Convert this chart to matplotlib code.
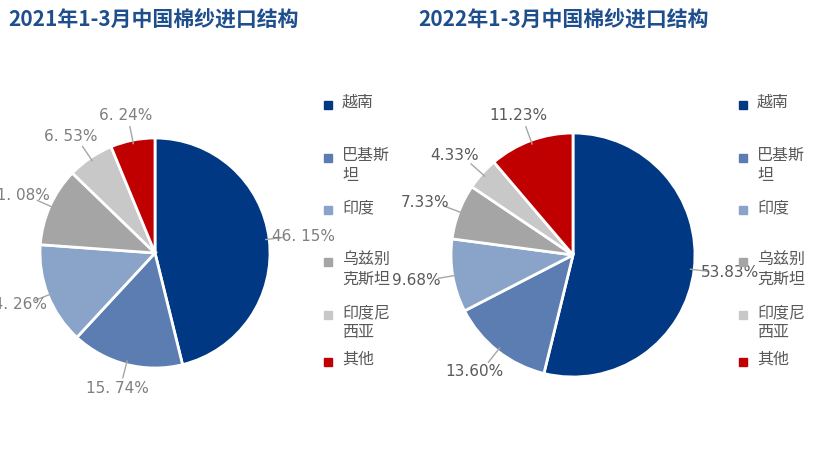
import matplotlib
matplotlib.use("Agg")
import matplotlib.pyplot as plt
from matplotlib import font_manager as fm
import numpy as np, glob

cands = [f for f in fm.findSystemFonts() if "CJK" in f or "cjk" in f.lower()]
for f in cands:
    try:
        fm.fontManager.addfont(f)
    except Exception:
        pass
names = {fm.FontProperties(fname=f).get_name() for f in cands}
cjk = "Noto Sans CJK SC" if "Noto Sans CJK SC" in names else (sorted(names)[0] if names else "DejaVu Sans")
plt.rcParams['font.family'] = [cjk, "DejaVu Sans"]

categories = ["越南", "巴基斯坦", "印度", "乌兹别克斯坦", "印度尼西亚", "其他"]
legend_labels = ["越南", "巴基斯\n坦", "印度", "乌兹别\n克斯坦", "印度尼\n西亚", "其他"]
values_2021 = [46.15, 15.74, 14.26, 11.08, 6.53, 6.24]
values_2022 = [53.83, 13.60, 9.68, 7.33, 4.33, 11.23]
labels_2021 = ["46. 15%", "15. 74%", "14. 26%", "11. 08%", "6. 53%", "6. 24%"]
labels_2022 = ["53.83%", "13.60%", "9.68%", "7.33%", "4.33%", "11.23%"]
colors = ["#003883", "#5b7db1", "#8aa3c8", "#a5a5a5", "#c8c8c8", "#c00000"]
titles = ["2021年1-3月中国棉纱进口结构", "2022年1-3月中国棉纱进口结构"]

W, H = 819, 463
fig = plt.figure(figsize=(W/100, H/100), dpi=100)

def draw(rect, vals, labs, lcolor):
    ax = fig.add_axes(rect)
    wedges, _ = ax.pie(vals, colors=colors, startangle=90, counterclock=False,
                       wedgeprops=dict(edgecolor="white", linewidth=2))
    ax.set_xlim(-1, 1); ax.set_ylim(-1, 1)
    ax.set_aspect('equal')
    for w, lab in zip(wedges, labs):
        ang = np.deg2rad((w.theta1 + w.theta2) / 2)
        c, s = np.cos(ang), np.sin(ang)
        ax.plot([0.97*c, 1.12*c], [0.97*s, 1.12*s], color="#a6a6a6", lw=1, clip_on=False)
        ax.text(1.3*c, 1.22*s, lab, ha="center", va="center", fontsize=11, color=lcolor,
                family="DejaVu Sans")
    return ax

draw([40/W, (H-368)/H, 230/W, 230/H], values_2021, labels_2021, "#7f7f7f")
draw([451/W, (H-377)/H, 244/W, 244/H], values_2022, labels_2022, "#595959")

fig.text(8/W, 1-20/H, titles[0], fontsize=15, fontweight="bold", color="#1f4e8c", va="center")
fig.text(418/W, 1-20/H, titles[1], fontsize=15, fontweight="bold", color="#1f4e8c", va="center")

ys = [105, 158, 210, 262, 315, 362]
for x0 in (328, 743):
    for y, lab, col in zip(ys, legend_labels, colors):
        fig.patches.append(plt.Rectangle(((x0-4)/W, 1-(y+4)/H), 8/W, 8/H,
                                         transform=fig.transFigure, color=col))
        fig.text((x0+14)/W, 1-(y-11)/H, lab, fontsize=11.5, color="#595959",
                 va="top", linespacing=1.25)

fig.savefig("out.png", dpi=100)
